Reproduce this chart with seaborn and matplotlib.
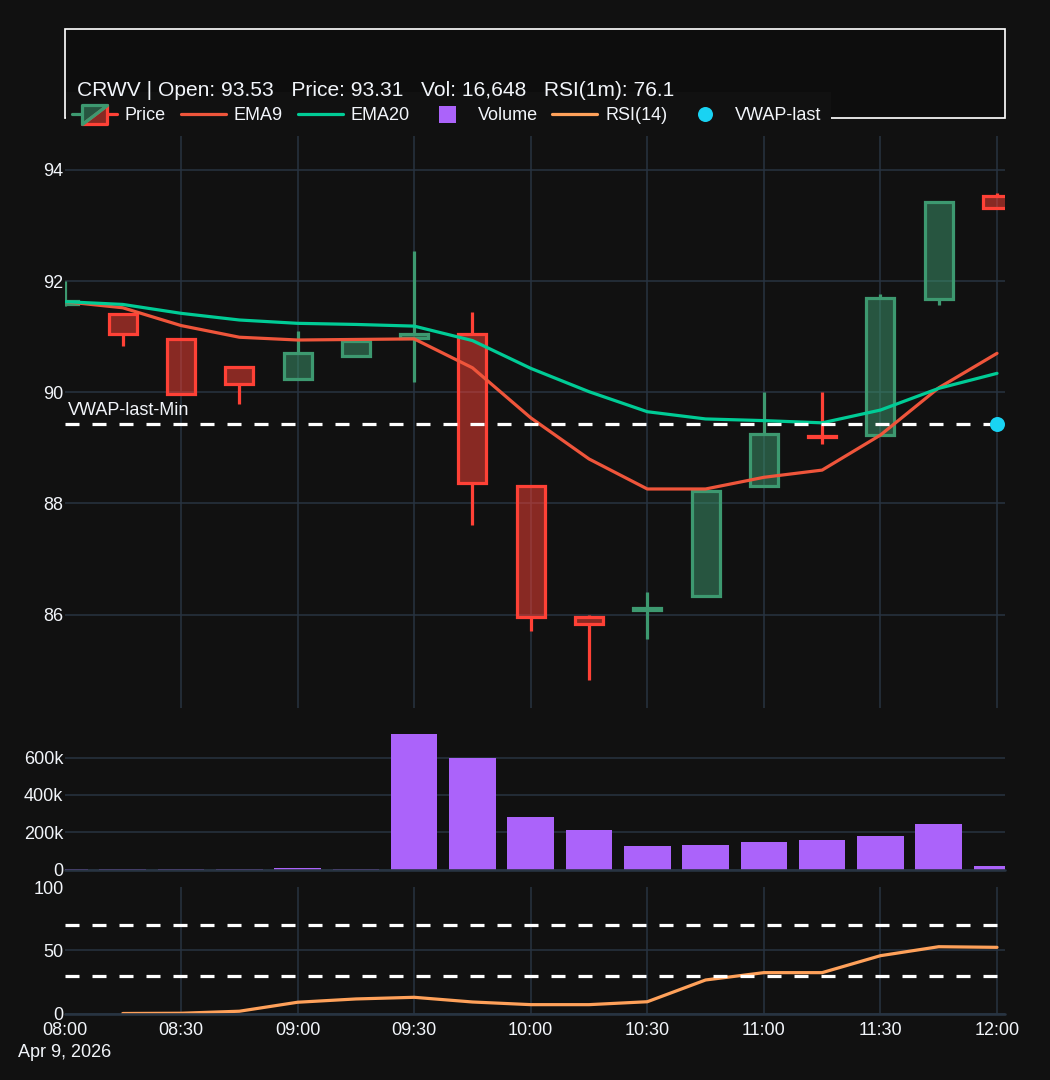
import matplotlib
matplotlib.use("Agg")
import matplotlib.pyplot as plt
from matplotlib.legend_handler import HandlerBase
from matplotlib.lines import Line2D
from matplotlib.patches import Polygon, Rectangle
import seaborn as sns

#### data
minutes = [0, 15, 30, 45, 60, 75, 90, 105, 120, 135, 150, 165, 180, 195, 210, 225, 240]
opens = [91.58, 91.40, 90.96, 90.45, 90.24, 90.66, 90.98, 91.05, 88.32, 85.95, 86.09, 86.34, 88.31, 89.22, 89.24, 91.68, 93.53]
closes = [91.64, 91.05, 89.96, 90.14, 90.71, 90.93, 91.04, 88.37, 85.96, 85.84, 86.12, 88.22, 89.25, 89.19, 91.69, 93.42, 93.31]
highs = [92.00, 91.40, 90.96, 90.45, 91.11, 90.93, 92.55, 91.45, 88.32, 86.00, 86.40, 88.22, 90.01, 90.00, 91.76, 93.42, 93.58]
lows = [91.55, 90.84, 89.96, 89.79, 90.24, 90.66, 90.19, 87.62, 85.70, 84.83, 85.56, 86.34, 88.31, 89.07, 89.24, 91.57, 93.31]
ema9 = [91.63, 91.52, 91.20, 90.99, 90.94, 90.95, 90.96, 90.44, 89.54, 88.80, 88.26, 88.26, 88.47, 88.60, 89.23, 90.08, 90.70]
ema20 = [91.63, 91.58, 91.42, 91.30, 91.24, 91.22, 91.19, 90.93, 90.43, 90.01, 89.65, 89.52, 89.49, 89.45, 89.68, 90.07, 90.34]
volume = [500, 800, 600, 2500, 9000, 1200, 729000, 600000, 280000, 212000, 127000, 130000, 148000, 157000, 180000, 245000, 16648]
rsi_minutes = [15, 30, 45, 60, 75, 90, 105, 120, 135, 150, 165, 180, 195, 210, 225, 240]
rsi = [0.0, 0.2, 1.8, 8.9, 11.5, 12.8, 9.1, 7.0, 7.0, 9.3, 26.5, 32.3, 32.3, 45.7, 52.8, 52.3]
vwap_last = 89.43
rsi_levels = [70, 30]
tick_minutes = [0, 30, 60, 90, 120, 150, 180, 210, 240]
tick_labels = ["08:00\nApr 9, 2026", "08:30", "09:00", "09:30", "10:00", "10:30", "11:00", "11:30", "12:00"]
price_ticks = [86, 88, 90, 92, 94]
volume_ticks = [0, 200000, 400000, 600000]
volume_labels = ["0", "200k", "400k", "600k"]
rsi_ticks = [0, 50, 100]
title = "CRWV | Open: 93.53   Price: 93.31   Vol: 16,648   RSI(1m): 76.1"

BG = "#111111"
GRID = "#283442"
TXT = "#f2f5fa"
UP = "#3D9970"
DOWN = "#FF4136"
PX = 0.72  # one pixel in points at dpi 100
LW = 3.2 * PX
DASH = (14 / 3.2, 13 / 3.2)  # in line widths
W, H = 1050, 1080

sns.set_theme(style="dark", rc={
    "figure.facecolor": BG, "axes.facecolor": BG, "axes.edgecolor": BG,
    "text.color": TXT, "xtick.color": TXT, "ytick.color": TXT,
    "grid.color": GRID, "grid.linewidth": 1.5 * PX,
})
plt.rcParams["font.family"] = ["Liberation Sans", "DejaVu Sans"]


def panel(left, top, right, bottom):
    return fig.add_axes([left / W, 1 - bottom / H, (right - left) / W, (bottom - top) / H])


class CandleHandler(HandlerBase):
    # half green, half red box like the plotly legend glyph
    def create_artists(self, legend, orig, x0, y0, width, height, fontsize, trans):
        mid = y0 + height / 2
        c = x0 + width / 2
        bw = width * 0.28
        bh = 6.8
        up = Polygon([[c - bw, mid - bh], [c - bw, mid + bh], [c + bw, mid + bh]], closed=True,
                     facecolor=UP + "80", edgecolor=UP, lw=LW, joinstyle="round", transform=trans)
        down = Polygon([[c - bw, mid - bh], [c + bw, mid - bh], [c + bw, mid + bh]], closed=True,
                       facecolor=DOWN + "80", edgecolor=DOWN, lw=LW, joinstyle="round", transform=trans)
        wick_up = Line2D([x0, c - bw], [mid, mid], color=UP, lw=LW, transform=trans)
        wick_down = Line2D([c + bw, x0 + width], [mid, mid], color=DOWN, lw=LW, transform=trans)
        return [wick_up, wick_down, down, up]


fig = plt.figure(figsize=(W / 100, H / 100), dpi=100)
ax_price = panel(64.5, 136, 1005, 708)
ax_vol = panel(64.5, 733.5, 1005, 869.5)
ax_rsi = panel(64.5, 887, 1005, 1013.5)

#### price panel
body_bottom = [min(o, c) for o, c in zip(opens, closes)]
body_top = [max(o, c) for o, c in zip(opens, closes)]
colors = [UP if c >= o else DOWN for o, c in zip(opens, closes)]
ax_price.bar(minutes, [t - b for t, b in zip(body_top, body_bottom)], bottom=body_bottom, width=7.2,
             color=[c + "80" for c in colors], edgecolor=colors, linewidth=LW, zorder=2)
ax_price.vlines(minutes, body_top, highs, colors=colors, linewidth=LW, zorder=2)
ax_price.vlines(minutes, lows, body_bottom, colors=colors, linewidth=LW, zorder=2)
sns.lineplot(x=minutes, y=ema9, color="#EF553B", linewidth=LW, errorbar=None, ax=ax_price, zorder=3)
sns.lineplot(x=minutes, y=ema20, color="#00CC96", linewidth=LW, errorbar=None, ax=ax_price, zorder=3)
vwap_line, = ax_price.plot([minutes[0], minutes[-1]], [vwap_last, vwap_last], color="white", lw=LW,
                           scalex=False, scaley=False, zorder=4)
vwap_line.set_dashes(DASH)
sns.scatterplot(x=[minutes[-1]], y=[vwap_last], color="#19D3F3", s=(15 * PX) ** 2, linewidth=0,
                ax=ax_price, zorder=5)
ax_price.annotate("VWAP-last-Min", (minutes[0], vwap_last), xytext=(3 * PX, 13 * PX),
                  textcoords="offset points", fontsize=13, color=TXT, va="center", ha="left", zorder=6)
ax_price.set_ylim(84.32, 94.61)
ax_price.set_yticks(price_ticks)

#### volume panel
sns.barplot(x=minutes, y=volume, native_scale=True, color="#AB63FA", saturation=1, width=0.8,
            errorbar=None, linewidth=0, ax=ax_vol, zorder=2)
ax_vol.set_ylim(0, max(volume))
ax_vol.set_yticks(volume_ticks)
ax_vol.set_yticklabels(volume_labels)

#### rsi panel
sns.lineplot(x=rsi_minutes, y=rsi, color="#FFA15A", linewidth=LW, errorbar=None, ax=ax_rsi, zorder=3)
for level in rsi_levels:
    line = ax_rsi.axhline(level, color="white", lw=LW, xmax=minutes[-1] / 242.06, zorder=4)
    line.set_dashes(DASH)
ax_rsi.set_ylim(0, 100)
ax_rsi.set_yticks(rsi_ticks)

for ax in (ax_price, ax_vol, ax_rsi):
    ax.set_xlim(0, 242.06)
    ax.set_xticks(tick_minutes)
    ax.set_xlabel("")
    ax.set_ylabel("")
    ax.set_axisbelow(True)
    ax.tick_params(length=0, labelsize=13, labelcolor=TXT)
    ax.tick_params(axis="y", pad=0.8)
    ax.tick_params(axis="x", pad=5.8)
    sns.despine(ax=ax, left=True, bottom=True)
    ax.grid(True, color=GRID, linewidth=1.5 * PX)
    ax.xaxis.get_gridlines()[0].set_visible(False)

ax_price.tick_params(labelbottom=False)
ax_vol.tick_params(labelbottom=False)
ax_vol.xaxis.grid(False)
ax_rsi.set_xticklabels(tick_labels, linespacing=1.4)
ax_rsi.yaxis.get_gridlines()[-1].set_visible(False)
# zero lines sit over the small bars
for ax in (ax_vol, ax_rsi):
    ax.axhline(0, color=GRID, lw=2.6 * PX, clip_on=False, zorder=3)

#### header box, legend and title
fig.add_artist(Rectangle((64.5 / W, 1 - 117.5 / H), 940.5 / W, 88.5 / H, transform=fig.transFigure,
                         facecolor="#0d0d0d", edgecolor="white", lw=1.7 * PX, zorder=1))
fig.add_artist(Rectangle((66 / W, 1 - 136 / H), 765 / W, 44 / H, transform=fig.transFigure,
                         facecolor=BG, edgecolor="none", zorder=2))
price_key = Rectangle((0, 0), 1, 1)
handles = [
    price_key,
    Line2D([], [], color="#EF553B", lw=LW),
    Line2D([], [], color="#00CC96", lw=LW),
    Line2D([], [], color="#AB63FA", marker="s", ls="none", markersize=17 * PX, markeredgewidth=0),
    Line2D([], [], color="#FFA15A", lw=LW),
    Line2D([], [], color="#19D3F3", marker="o", ls="none", markersize=15 * PX, markeredgewidth=0),
]
labels = ["Price", "EMA9", "EMA20", "Volume", "RSI(14)", "VWAP-last"]
leg = fig.legend(handles, labels, ncols=6, loc="center left", bbox_to_anchor=(64.5 / W, 1 - 116 / H),
                 frameon=False, fontsize=13, handlelength=2.49, handletextpad=0.44, columnspacing=0.82,
                 borderpad=0.42, borderaxespad=0, labelcolor=TXT, handler_map={price_key: CandleHandler()})
leg.set_zorder(3)
fig.text(77 / W, 1 - 91 / H, title, fontsize=15.08, color=TXT, ha="left", va="center", zorder=4)

plt.savefig("out.png", dpi=100, facecolor=BG)
